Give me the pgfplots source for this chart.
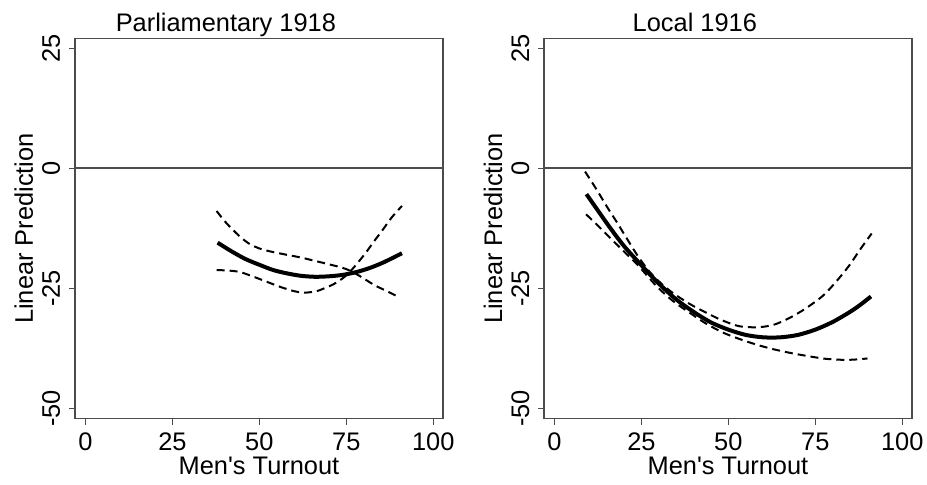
\documentclass[border=0pt]{standalone}
\usepackage{fontspec}
\setmainfont{Liberation Sans}
\usepackage{pgfplots}
\pgfplotsset{compat=1.18}

\newcommand{\fs}{\fontsize{12.7pt}{15pt}\selectfont}

\pgfplotsset{
  panel/.style={
    scale only axis,
    width=184pt, height=190pt,
    anchor=south west,
    xmin=-3, xmax=102.8,
    ymin=-52.1, ymax=27.0,
    xtick={0,25,50,75,100},
    xticklabels={0,25,50,75,100},
    ytick={-50,-25,0,25},
    yticklabels={-50,-25,0,25},
    tick align=outside,
    xtick pos=bottom, ytick pos=left,
    major tick length=3pt,
    tick style={black!70, line width=0.6pt},
    axis line style={black!70, line width=0.75pt},
    ticklabel style={font=\fs, inner sep=0pt},
    xticklabel style={anchor=base, yshift=-12.75pt},
    % rotated labels: yshift moves them left
    yticklabel style={rotate=90, anchor=base, yshift=4.5pt},
    label style={font=\fs, inner sep=0pt},
    xlabel={Men\textquotesingle s Turnout},
    ylabel={Linear Prediction},
    xlabel style={at={(axis description cs:0.5,0)}, anchor=base, yshift=-27.75pt},
    ylabel style={at={(axis description cs:0,0.5)}, anchor=base, yshift=21pt},
    title style={font=\fs, inner sep=0pt, at={(axis description cs:0.41,1)}, anchor=base, yshift=-2.5pt},
    clip=false,
  },
  fit/.style={black, line width=2pt, smooth},
  band/.style={black, line width=1pt, smooth, dash pattern=on 4pt off 2.5pt},
}

\begin{document}
\begin{tikzpicture}
\path[use as bounding box] (0,0) rectangle (463.5pt,242pt);

% Parliamentary 1918
\begin{axis}[panel, at={(37.5pt,32.75pt)}, title={Parliamentary 1918}]
\addplot[black!70, line width=0.75pt] coordinates {(-3,0) (102.8,0)};
\addplot[band] coordinates {
  (37.7,-8.9) (40,-11.0) (42.5,-12.9) (45,-14.6) (47.5,-15.9) (50,-16.7)
  (53,-17.3) (57,-17.9) (62,-18.6) (66,-19.3) (70,-20.0) (75,-21.0)
  (79,-22.5) (83,-24.3) (87,-25.7) (90,-26.8)
};
\addplot[band] coordinates {
  (37.7,-21.2) (41,-21.3) (44.4,-21.6) (48,-22.5) (52,-23.6) (56,-24.7)
  (60,-25.6) (63,-25.9) (66.4,-25.6) (69,-24.9) (71.2,-24.2) (74,-22.9)
  (76,-21.6) (78.5,-19.5) (80.8,-17.4) (83,-15.2) (85.6,-12.7) (88,-10.3)
  (91,-7.85)
};
\addplot[fit] coordinates {
  (38,-15.5) (42,-17.3) (46,-18.9) (50,-20.1) (54,-21.2) (58,-21.9)
  (62,-22.4) (66,-22.6) (70,-22.5) (74,-22.2) (78,-21.6) (82,-20.7)
  (86,-19.5) (91,-17.7)
};
\end{axis}

% Local 1916
\begin{axis}[panel, at={(272pt,32.75pt)}, title={Local 1916}]
\addplot[black!70, line width=0.75pt] coordinates {(-3,0) (102.8,0)};
\addplot[band] coordinates {
  (8.8,-0.7) (12,-4.3) (15,-7.9) (18,-11.3) (20.7,-14.5) (24,-18.3)
  (27.4,-21.6) (31,-24.2) (34.1,-26.0) (39,-28.3) (43.7,-30.1) (48,-31.6)
  (53.2,-32.9) (58.5,-33.1) (63,-32.6) (67.5,-31.2) (72,-29.3) (77.1,-26.6)
  (81,-23.6) (84.7,-20.3) (88,-16.8) (91.2,-13.6)
};
\addplot[band] coordinates {
  (9.1,-9.6) (12,-11.6) (16,-14.5) (19.8,-17.2) (24,-20.2) (29.3,-24.5)
  (34,-27.6) (38.9,-30.1) (43.5,-32.3) (48.4,-34.2) (53,-35.5) (58,-36.7)
  (62.5,-37.6) (67.5,-38.4) (72,-39.0) (77.1,-39.6) (80.5,-39.8)
  (83.8,-39.9) (87,-39.8) (90,-39.6)
};
\addplot[fit] coordinates {
  (9.2,-5.4) (12,-8.3) (16,-12.4) (20,-16.2) (25,-20.2) (30,-24.0)
  (35,-27.3) (40,-29.9) (45,-32.1) (50,-33.6) (55,-34.7) (60,-35.2)
  (65,-35.2) (70,-34.7) (75,-33.6) (80,-32.0) (85,-29.9) (88,-28.4)
  (91,-26.7)
};
\end{axis}
\end{tikzpicture}
\end{document}
